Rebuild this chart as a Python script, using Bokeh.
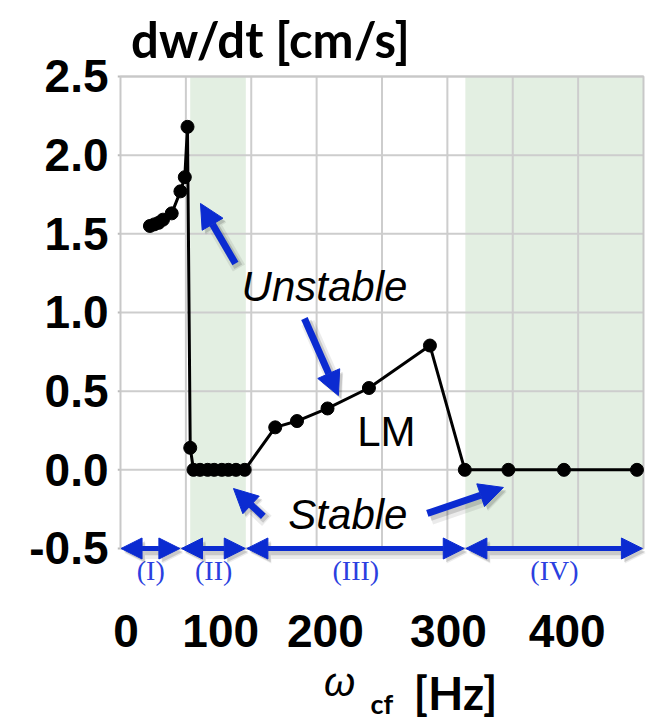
from bokeh.plotting import figure
from bokeh.models import FixedTicker, Label, Arrow, NormalHead, Range1d
from bokeh.core.properties import value
from bokeh.embed import file_html
from bokeh.resources import INLINE

# ---------------- data ----------------
freq_hz = [27, 31, 35, 39, 47, 55, 59, 61.5, 64,
           67, 73, 80, 86, 93, 99, 106, 114,
           142, 162, 190, 228, 284,
           316, 356, 407, 474]
dwdt_cms = [1.55, 1.56, 1.57, 1.59, 1.63, 1.77, 1.86, 2.18, 0.14,
            0.0, 0.0, 0.0, 0.0, 0.0, 0.0, 0.0, 0.0,
            0.27, 0.31, 0.39, 0.52, 0.79,
            0.0, 0.0, 0.0, 0.0]

y_ticks = [-0.5, 0.0, 0.5, 1.0, 1.5, 2.0, 2.5]
x_tick_labels = ["0", "100", "200", "300", "400"]
x_grid = [60, 120, 180, 240, 300, 360, 420]

region_names = ["(I)", "(II)", "(III)", "(IV)"]
region_bounds = [0, 55.5, 115.5, 316.5, 480]
shaded_left = [64, 316.5]
shaded_right = [115, 480]

# ---------------- layout / style ----------------
BLUE = "#0b2bd1"
RBLUE = "#2b3fe0"
GRID = "#cdcdcd"
GREEN = "#e3efe2"

X_MIN, X_MAX = 0, 480          # plot box
Y_MIN, Y_MAX = -0.5, 2.5
x_tick_pos = [5, 92, 188, 301, 410]   # where the tick labels sit in the picture

# the frame covers the whole canvas right of the y axis; the plot box is drawn inside it
p = figure(width=653, height=721, output_backend="svg", toolbar_location=None,
           x_range=Range1d(-11.013, 489.18), y_range=Range1d(-1.5996, 2.983),
           x_axis_location=None, y_axis_location="left",
           min_border_left=108, min_border_right=0,
           min_border_top=0, min_border_bottom=0)
p.background_fill_color = "white"
p.border_fill_color = "white"
p.outline_line_color = None
p.grid.visible = False

p.yaxis.ticker = FixedTicker(ticks=y_ticks)
p.yaxis.major_label_overrides = {t: f"{t:.1f}" for t in y_ticks}
p.yaxis.minor_tick_line_color = None
p.yaxis.major_tick_line_color = None
p.yaxis.major_tick_in = 0
p.yaxis.major_tick_out = 0
p.yaxis.axis_line_color = None
p.yaxis.major_label_standoff = 0
p.yaxis.major_label_text_font = "Liberation Sans"
p.yaxis.major_label_text_font_style = "bold"
p.yaxis.major_label_text_font_size = "46px"
p.yaxis.major_label_text_color = "black"

# shaded stability bands
p.quad(left=shaded_left, right=shaded_right, bottom=Y_MIN, top=Y_MAX,
       fill_color=GREEN, line_color=None)

# grid lines, small ticks and plot box
p.segment(x0=X_MIN, x1=X_MAX, y0=y_ticks, y1=y_ticks, line_color=GRID, line_width=2)
p.segment(x0=x_grid, x1=x_grid, y0=Y_MIN, y1=Y_MAX, line_color=GRID, line_width=2)
p.segment(x0=X_MIN - 2.5, x1=X_MIN, y0=y_ticks, y1=y_ticks, line_color="#bbbbbb", line_width=2)
p.quad(left=X_MIN, right=X_MAX, bottom=Y_MIN, top=Y_MAX,
       fill_color=None, line_color="#c8c8c8", line_width=2)

# data
p.line(freq_hz, dwdt_cms, line_color="black", line_width=3)
p.scatter(freq_hz, dwdt_cms, size=13, color="black")


def add_arrow(x0, y0, x1, y1, both=False, size=24, width=7):
    # soft shadow
    for dx, dy, a, w in ((3.2, -0.028, 0.08, width + 7), (2.6, -0.02, 0.14, width + 2)):
        p.add_layout(Arrow(x_start=x0 + dx, y_start=y0 + dy, x_end=x1 + dx, y_end=y1 + dy,
                           line_color="black", line_alpha=a, line_width=w,
                           end=NormalHead(size=size, fill_color="black", fill_alpha=a,
                                          line_color=None),
                           start=NormalHead(size=size, fill_color="black", fill_alpha=a,
                                            line_color=None) if both else None))
    p.add_layout(Arrow(x_start=x0, y_start=y0, x_end=x1, y_end=y1,
                       line_color=BLUE, line_width=width,
                       end=NormalHead(size=size, fill_color=BLUE, line_color=BLUE),
                       start=NormalHead(size=size, fill_color=BLUE, line_color=BLUE) if both else None))


# pointer arrows
add_arrow(105.5, 1.311, 73.4, 1.693)
add_arrow(168.8, 0.962, 200.0, 0.472)
add_arrow(131.1, -0.296, 103.7, -0.119)
add_arrow(281.6, -0.277, 351.4, -0.112)

# regime double arrows along the bottom edge and their names
for i in range(len(region_names)):
    add_arrow(region_bounds[i] + 0.5, Y_MIN, region_bounds[i + 1] - 1, Y_MIN,
              both=True, size=21, width=5)
region_mid = [(region_bounds[i] + region_bounds[i + 1]) / 2 for i in range(len(region_names))]
p.text(x=region_mid, y=[-0.642] * len(region_names), text=region_names,
       text_align="center", text_baseline="middle",
       text_font=value("Liberation Serif"), text_font_size="28px", text_color=RBLUE)

# x tick labels
p.text(x=x_tick_pos, y=[-1.0244] * len(x_tick_pos), text=x_tick_labels,
       text_align="center", text_baseline="middle",
       text_font=value("Liberation Sans"), text_font_style="bold",
       text_font_size="46px", text_color="black")

# annotations
p.add_layout(Label(x=187.2, y=1.0156, text="Unstable", text_align="center",
                   text_font="Liberation Sans", text_font_style="italic",
                   text_font_size="42px", text_color="black"))
p.add_layout(Label(x=208.7, y=-0.4356, text="Stable", text_align="center",
                   text_font="Liberation Sans", text_font_style="italic",
                   text_font_size="42px", text_color="black"))
p.add_layout(Label(x=244.0, y=0.097, text="LM", text_align="center",
                   text_font="Liberation Sans", text_font_size="42px", text_color="black"))

# axis titles
p.add_layout(Label(x=137.7, y=2.557, text="dw/dt [cm/s]", text_align="center",
                   text_font="Lato", text_font_style="bold", text_font_size="49px",
                   text_color="black"))
p.add_layout(Label(x=201.0, y=-1.488, text="ω", text_align="center",
                   text_font="Liberation Sans", text_font_style="italic",
                   text_font_size="40px", text_color="black"))
p.add_layout(Label(x=229.4, y=-1.592, text="cf", text_align="left",
                   text_font="Lato", text_font_style="bold", text_font_size="27px",
                   text_color="black"))
p.add_layout(Label(x=268.9, y=-1.59, text="[Hz]", text_align="left",
                   text_font="Lato", text_font_style="bold", text_font_size="46px",
                   text_color="black"))

open("out.html", "w").write(file_html(p, INLINE))
